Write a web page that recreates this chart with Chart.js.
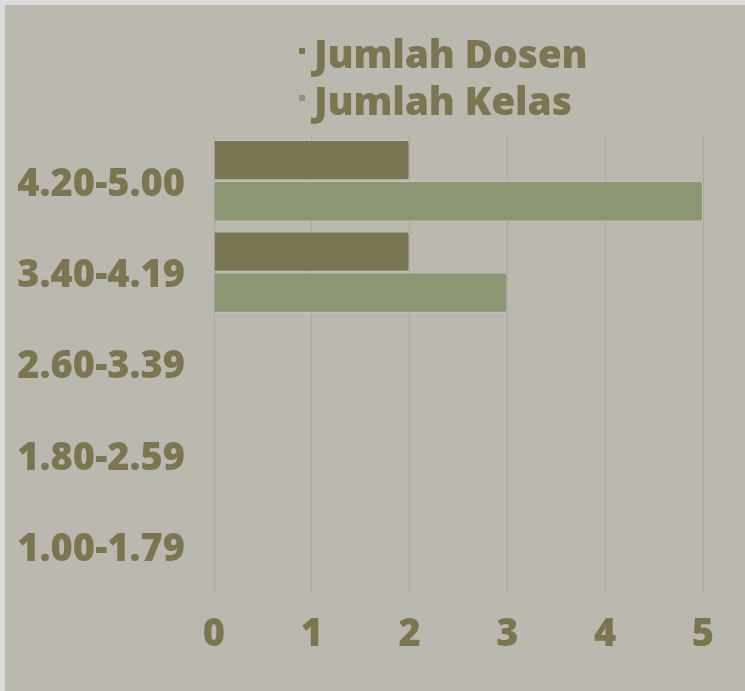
<!DOCTYPE html>
<html>
<head>
<meta charset="utf-8">
<script src="https://cdn.jsdelivr.net/npm/chart.js@4/dist/chart.umd.min.js"></script>
<style>
    html, body { margin: 0; padding: 0; background: #dcdcdc; }
    #wrap { position: absolute; left: 5px; top: 5px; width: 740px; height: 686px; background: #bbb8af; }
    #legend { position: absolute; left: 294px; top: 24px; font-family: "Open Sans", sans-serif; font-weight: 800; font-size: 39px; color: #7b7551; line-height: 47px; }
    #legend .item { white-space: nowrap; letter-spacing: -0.2px; }
    #legend .box { display: inline-block; width: 6px; height: 6px; margin-right: 9px; vertical-align: 14px; }
    canvas { position: absolute; left: 0; top: 0; }
</style>
</head>
<body>
<div id="wrap">
    <canvas id="chart" width="740" height="686"></canvas>
    <div id="legend"></div>
</div>
<script>
// Data - distribusi nilai
const categories = ['4.20-5.00', '3.40-4.19', '2.60-3.39', '1.80-2.59', '1.00-1.79'];
const jumlahDosen = [2, 2, 0, 0, 0];
const jumlahKelas = [5, 3, 0, 0, 0];
const xTicks = [0, 1, 2, 3, 4, 5];

const textColor = '#7b7551';
const fontFamily = '"Open Sans", sans-serif';

document.addEventListener('DOMContentLoaded', function() {
    const chart = buildChart();
    renderLegend(chart);
});

function buildChart() {
    const ctx = document.getElementById('chart').getContext('2d');
    return new Chart(ctx, {
        type: 'bar',
        data: {
            labels: categories,
            datasets: [{
                label: 'Jumlah Dosen',
                data: jumlahDosen,
                backgroundColor: '#7a7552',
                borderColor: 'rgba(215,210,190,0.45)',
                borderWidth: 1,
                borderRadius: 3,
                borderSkipped: 'start'
            }, {
                label: 'Jumlah Kelas',
                data: jumlahKelas,
                backgroundColor: '#8a9674',
                borderColor: 'rgba(215,210,190,0.45)',
                borderWidth: 1,
                borderRadius: 3,
                borderSkipped: 'start'
            }]
        },
        options: {
            indexAxis: 'y',
            responsive: false,
            animation: false,
            categoryPercentage: 0.9,
            barPercentage: 0.98,
            layout: { padding: { top: 130, right: 42, left: 0, bottom: 0 } },
            plugins: {
                legend: { display: false },
                tooltip: { enabled: false }
            },
            scales: {
                x: {
                    min: 0,
                    max: 5,
                    afterBuildTicks: function(axis) {
                        axis.ticks = xTicks.map(v => ({ value: v }));
                    },
                    afterFit: function(axis) { axis.height = 99; },
                    grid: { color: '#aba89c', lineWidth: 1, drawTicks: false },
                    border: { display: false },
                    ticks: {
                        color: textColor,
                        padding: 20,
                        font: { family: fontFamily, weight: 800, size: 38 }
                    }
                },
                y: {
                    afterFit: function(axis) { axis.width = 209; },
                    grid: { display: false },
                    border: { display: false },
                    ticks: {
                        color: textColor,
                        padding: 21,
                        labelOffset: 4,
                        font: { family: fontFamily, weight: 800, size: 38 }
                    }
                }
            }
        }
    });
}

function renderLegend(chart) {
    const el = document.getElementById('legend');
    let html = '';
    chart.data.datasets.forEach(ds => {
        html += `<div class="item"><span class="box" style="background:${ds.backgroundColor}"></span>${ds.label}</div>`;
    });
    el.innerHTML = html;
}
</script>
</body>
</html>
